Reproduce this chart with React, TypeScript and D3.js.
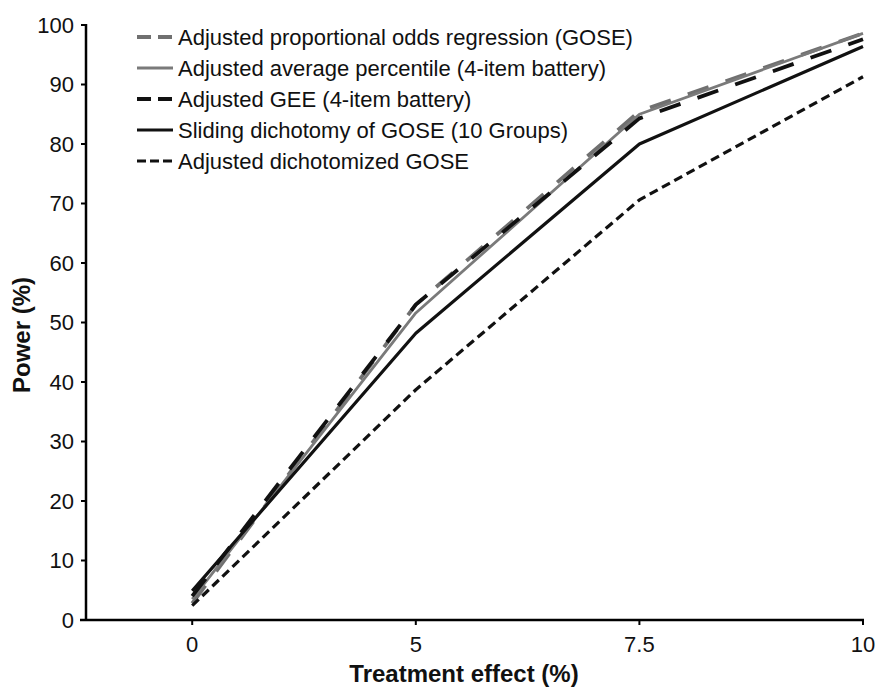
import React from "react";
import * as d3 from "d3";

const xLabels = ["0", "5", "7.5", "10"];
const yTicks = [0, 10, 20, 30, 40, 50, 60, 70, 80, 90, 100];

const poRegression = [2.8, 53.0, 85.5, 98.6];
const avgPercentile = [3.5, 51.6, 85.0, 98.6];
const geeBattery = [4.0, 53.0, 84.3, 97.6];
const slidingDichotomy = [4.9, 48.2, 80.0, 96.4];
const dichotomizedGose = [2.4, 38.7, 70.6, 91.3];

const seriesNames = [
  "Adjusted proportional odds regression (GOSE)",
  "Adjusted average percentile (4-item battery)",
  "Adjusted GEE (4-item battery)",
  "Sliding dichotomy of GOSE (10 Groups)",
  "Adjusted dichotomized GOSE",
];

const styles = [
  { color: "#707070", width: 3.8, dash: "22,18", legendDash: "14,7" },
  { color: "#7a7a7a", width: 2.8, dash: "", legendDash: "" },
  { color: "#111", width: 3.8, dash: "22,18", legendDash: "14,7" },
  { color: "#111", width: 3.2, dash: "", legendDash: "" },
  { color: "#111", width: 3.2, dash: "9,5", legendDash: "9,4" },
];

const FONT = "'Liberation Sans', Arial, Helvetica, sans-serif";

export default function App() {
  const W = 878;
  const H = 691;
  const left = 86;
  const right = 863;
  const top = 25;
  const bottom = 620;

  const x = d3.scaleLinear().domain([-0.475, 3]).range([left, right]);
  const y = d3.scaleLinear().domain([0, 100]).range([bottom, top]);

  const allSeries = [poRegression, avgPercentile, geeBattery, slidingDichotomy, dichotomizedGose];
  const line = d3
    .line<number>()
    .x((_, i) => x(i))
    .y((d) => y(d));

  const legendX0 = 137;
  const legendX1 = 173;
  const legendTextX = 178;
  const legendY = [37, 68, 99, 130, 161];

  return (
    <svg
      width={W}
      height={H}
      style={{ position: "absolute", left: 0, top: 0, background: "#fff" }}
      fontFamily={FONT}
    >
      <rect width={W} height={H} fill="#fff" />
      {allSeries.map((s, k) => (
        <path
          key={k}
          d={line(s) || ""}
          fill="none"
          stroke={styles[k].color}
          strokeWidth={styles[k].width}
          strokeDasharray={styles[k].dash || undefined}
          strokeLinejoin="round"
        />
      ))}

      <line x1={left} x2={left} y1={top - 1} y2={bottom + 1} stroke="#000" strokeWidth={2.5} />
      {yTicks.map((t) => (
        <g key={t}>
          <line x1={left - 5} x2={left} y1={y(t)} y2={y(t)} stroke="#000" strokeWidth={2} />
          <text
            x={74}
            y={y(t)}
            textAnchor="end"
            dominantBaseline="central"
            fontSize={22}
            fill="#111"
          >
            {t}
          </text>
        </g>
      ))}

      <line x1={left - 6} x2={right + 1} y1={bottom} y2={bottom} stroke="#000" strokeWidth={2.5} />
      {xLabels.map((lab, i) => (
        <g key={lab}>
          <line x1={x(i)} x2={x(i)} y1={bottom} y2={bottom + 5} stroke="#000" strokeWidth={2} />
          <text x={x(i)} y={652} textAnchor="middle" fontSize={22} fill="#111">
            {lab}
          </text>
        </g>
      ))}

      <text x={464} y={682} textAnchor="middle" fontSize={24} fontWeight="bold" fill="#111">
        Treatment effect (%)
      </text>
      <text
        transform={`translate(30, 335) rotate(-90)`}
        textAnchor="middle"
        fontSize={24}
        fontWeight="bold"
        fill="#111"
      >
        Power (%)
      </text>

      {seriesNames.map((name, k) => (
        <g key={name}>
          <line
            x1={legendX0}
            x2={legendX1}
            y1={legendY[k]}
            y2={legendY[k]}
            stroke={styles[k].color}
            strokeWidth={styles[k].width}
            strokeDasharray={styles[k].legendDash || undefined}
          />
          <text
            x={legendTextX}
            y={legendY[k]}
            dominantBaseline="central"
            fontSize={22}
            fill="#111"
          >
            {name}
          </text>
        </g>
      ))}
    </svg>
  );
}
